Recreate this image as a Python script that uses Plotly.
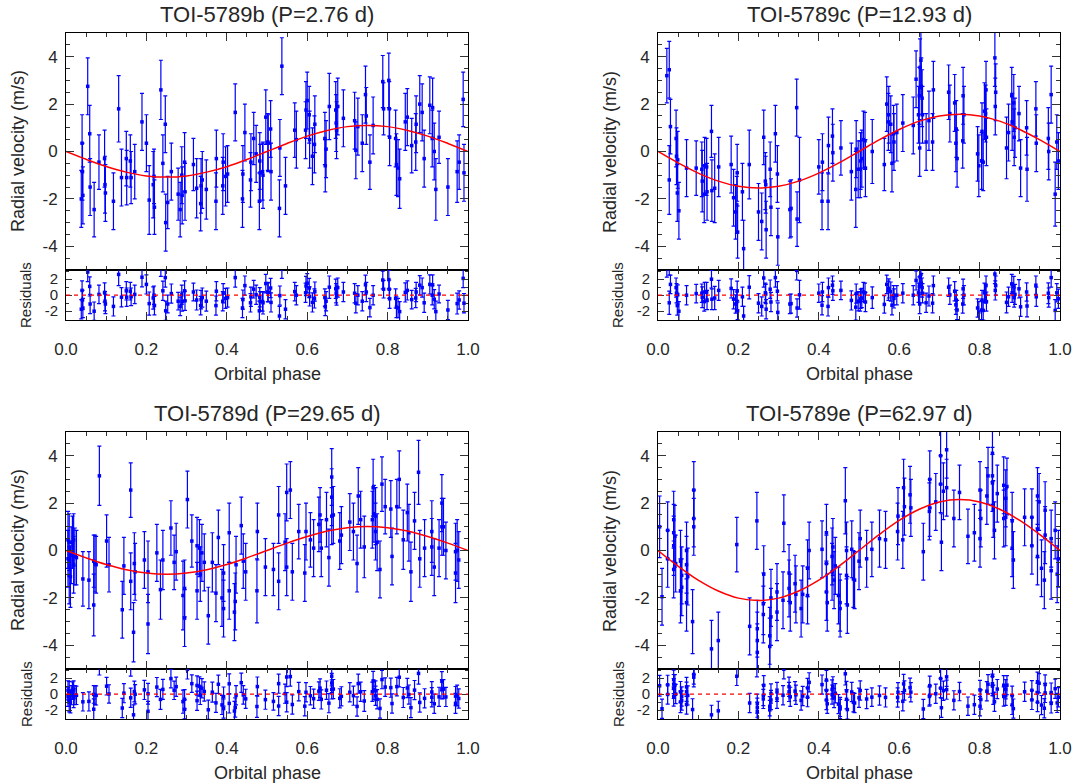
import plotly.graph_objects as go

W, H = 1078, 784

titles = ["TOI-5789b (P=2.76 d)", "TOI-5789c (P=12.93 d)",
          "TOI-5789d (P=29.65 d)", "TOI-5789e (P=62.97 d)"]

model_phase = [0.00, 0.05, 0.10, 0.15, 0.20, 0.25, 0.30, 0.35, 0.40, 0.45, 0.50,
               0.55, 0.60, 0.65, 0.70, 0.75, 0.80, 0.85, 0.90, 0.95, 1.00]
b_model = [0, -0.33, -0.63, -0.87, -1.03, -1.08, -1.03, -0.87, -0.64, -0.34, 0.0,
           0.34, 0.65, 0.89, 1.05, 1.10, 1.05, 0.89, 0.65, 0.34, 0.0]
c_model = [0, -0.48, -0.91, -1.25, -1.47, -1.54, -1.47, -1.25, -0.91, -0.48, 0.0,
           0.49, 0.93, 1.28, 1.50, 1.57, 1.50, 1.28, 0.93, 0.49, 0.0]
d_model = [0, -0.31, -0.59, -0.81, -0.95, -1.00, -0.95, -0.81, -0.59, -0.31, 0.0,
           0.31, 0.59, 0.82, 0.96, 1.01, 0.96, 0.82, 0.59, 0.31, 0.0]
e_model = [0, -0.66, -1.25, -1.71, -2.01, -2.11, -2.01, -1.71, -1.25, -0.66, 0.0,
           0.67, 1.27, 1.74, 2.05, 2.15, 2.05, 1.74, 1.27, 0.67, 0.0]

# ---------------- TOI-5789b ----------------
b_phase = [
    0.038, 0.040, 0.041, 0.042, 0.054, 0.059, 0.060, 0.070, 0.082, 0.096,
    0.097, 0.098, 0.118, 0.131, 0.138, 0.150, 0.151, 0.160, 0.162, 0.171,
    0.189, 0.200, 0.207, 0.217, 0.219, 0.220, 0.236, 0.241, 0.247, 0.248,
    0.253, 0.262, 0.279, 0.284, 0.288, 0.289, 0.295, 0.296, 0.317, 0.325,
    0.335, 0.336, 0.339, 0.349, 0.373, 0.374, 0.390, 0.391, 0.397, 0.402,
    0.421, 0.439, 0.440, 0.445, 0.459, 0.460, 0.467, 0.473, 0.481, 0.482,
    0.483, 0.489, 0.490, 0.497, 0.502, 0.503, 0.509, 0.510, 0.531, 0.532,
    0.537, 0.546, 0.569, 0.573, 0.596, 0.597, 0.600, 0.605, 0.606, 0.613,
    0.618, 0.619, 0.644, 0.645, 0.647, 0.655, 0.671, 0.672, 0.673, 0.676,
    0.690, 0.718, 0.721, 0.726, 0.737, 0.745, 0.747, 0.756, 0.764, 0.788,
    0.790, 0.803, 0.804, 0.805, 0.820, 0.822, 0.826, 0.830, 0.844, 0.849,
    0.860, 0.870, 0.871, 0.880, 0.886, 0.891, 0.905, 0.911, 0.912, 0.916,
    0.920, 0.928, 0.950, 0.973, 0.978, 0.988, 0.990]
b_rv = [
    -2.00, 0.35, -0.85, -1.85, 2.75, 0.75, -1.50, -2.45, -0.45, -0.30,
    -1.40, -1.75, -2.10, 1.80, -1.10, -0.30, -1.10, -0.40, -1.10, -0.85,
    1.25, 0.35, -2.05, -1.40, -1.05, -2.35, 2.60, -0.50, 1.15, -3.00,
    -2.15, -0.85, -1.80, -2.45, -1.00, -1.85, -0.45, -1.70, -0.55, -1.55,
    -2.20, -1.45, -1.20, -1.60, -2.10, -0.30, -1.45, -0.45, -1.05, -0.95,
    1.65, -2.00, -0.95, 0.80, -1.20, -0.45, 0.55, -0.10, -2.10, -0.40,
    -0.90, -0.85, -1.00, 1.45, 0.40, 0.35, 0.95, -0.85, -2.40, 0.15,
    3.60, -1.45, 0.90, 0.50, 0.90, 1.75, 2.15, 1.55, 0.50, -0.20,
    0.30, 1.15, 0.55, -0.60, 0.10, 1.90, 1.75, 1.20, 0.90, 1.90,
    1.40, 1.30, 0.05, 1.05, 0.35, 2.40, 1.50, -0.45, 1.10, 2.95,
    1.80, 3.00, 1.80, 0.60, 0.55, -0.55, -0.70, -1.15, 1.25, 1.45,
    0.25, 0.40, 1.15, 2.00, 1.65, -0.30, 1.95, 0.55, 1.85, 0.00,
    -1.60, 0.60, -1.50, -0.85, -0.45, 2.20, -0.90]
b_err = [
    1.2, 1.2, 1.2, 1.2, 1.2, 1.2, 1.2, 1.15, 1.15, 1.2,
    1.2, 1.2, 1.2, 1.4, 1.2, 1.15, 1.15, 1.1, 1.1, 1.15,
    1.2, 1.2, 1.45, 1.4, 1.15, 1.15, 1.25, 1.2, 1.2, 1.2,
    1.1, 1.2, 1.1, 1.15, 1.2, 1.2, 1.25, 1.2, 1.1, 1.25,
    1.15, 1.15, 1.2, 1.25, 1.2, 1.2, 1.2, 1.2, 1.25, 1.2,
    1.2, 1.2, 1.2, 1.2, 1.15, 1.2, 1.1, 1.2, 1.2, 1.2,
    1.2, 1.2, 1.4, 1.15, 1.2, 1.2, 1.2, 1.2, 1.2, 1.2,
    1.2, 1.2, 1.15, 1.2, 1.2, 1.2, 1.2, 1.2, 1.2, 1.2,
    1.2, 1.2, 1.1, 1.1, 1.2, 1.4, 1.2, 1.2, 1.2, 1.2,
    1.2, 1.2, 1.2, 1.2, 1.2, 1.2, 1.2, 1.15, 1.2, 1.1,
    1.1, 1.15, 1.15, 1.2, 1.2, 1.3, 1.2, 1.25, 1.2, 1.2,
    1.15, 1.2, 1.2, 1.2, 1.2, 1.2, 1.2, 1.2, 1.25, 1.2,
    1.3, 1.1, 1.2, 1.3, 1.15, 1.15, 1.2]
b_res = [
    -1.75, 0.60, -0.60, -1.60, 2.90, 1.10, -1.10, -2.00, 0.10, 0.35,
    -0.75, -1.10, -1.40, 2.60, -0.25, 0.55, -0.25, 0.50, -0.20, 0.10,
    2.25, 1.35, -1.05, -0.35, 0.00, -1.30, 3.60, 0.55, 2.20, -1.95,
    -1.10, 0.20, -0.75, -1.40, 0.05, -0.80, 0.55, -0.70, 0.40, -0.60,
    -1.30, -0.55, -0.30, -0.75, -1.30, 0.50, -0.75, 0.25, -0.40, -0.30,
    2.20, -1.60, -0.55, 1.20, -0.95, -0.20, 0.75, 0.05, -1.95, -0.25,
    -0.75, -0.80, -0.95, 1.45, 0.40, 0.35, 0.90, -0.90, -2.60, -0.05,
    3.30, -1.75, 0.45, 0.00, 0.30, 1.15, 1.50, 0.90, -0.15, -0.90,
    -0.40, 0.45, -0.30, -1.45, -0.75, 1.00, 0.80, 0.25, -0.05, 0.95,
    0.40, 0.25, -1.00, 0.00, -0.75, 1.30, 0.40, -1.55, 0.00, 1.90,
    0.75, 1.95, 0.75, -0.45, -0.40, -1.50, -1.60, -2.05, 0.35, 0.60,
    -0.55, -0.35, 0.40, 1.25, 0.95, -0.95, 1.35, 0.00, 1.30, -0.50,
    -2.05, 0.15, -1.85, -1.05, -0.60, 2.10, -1.00]

# ---------------- TOI-5789c ----------------
c_phase = [
    0.022, 0.028, 0.028, 0.031, 0.045, 0.046, 0.048, 0.049, 0.052, 0.071,
    0.095, 0.109, 0.110, 0.115, 0.116, 0.121, 0.122, 0.133, 0.134, 0.141,
    0.151, 0.182, 0.188, 0.193, 0.196, 0.197, 0.198, 0.210, 0.213, 0.227,
    0.250, 0.258, 0.263, 0.267, 0.268, 0.269, 0.279, 0.281, 0.292, 0.297,
    0.298, 0.328, 0.331, 0.345, 0.346, 0.352, 0.400, 0.408, 0.409, 0.423,
    0.424, 0.434, 0.435, 0.455, 0.481, 0.492, 0.493, 0.498, 0.503, 0.504,
    0.507, 0.511, 0.515, 0.516, 0.533, 0.563, 0.569, 0.573, 0.574, 0.579,
    0.582, 0.586, 0.587, 0.594, 0.609, 0.635, 0.642, 0.648, 0.650, 0.651,
    0.652, 0.654, 0.655, 0.657, 0.658, 0.667, 0.674, 0.683, 0.685, 0.723,
    0.726, 0.738, 0.741, 0.742, 0.744, 0.758, 0.759, 0.761, 0.795, 0.798,
    0.805, 0.806, 0.809, 0.812, 0.815, 0.816, 0.817, 0.838, 0.839, 0.840,
    0.867, 0.872, 0.880, 0.881, 0.885, 0.886, 0.888, 0.898, 0.902, 0.917,
    0.918, 0.940, 0.941, 0.971, 0.972, 0.978, 0.988, 0.992, 0.996]
c_rv = [
    3.20, 3.45, -1.20, 1.05, 0.55, -0.20, -1.75, -0.35, -2.50, -0.70,
    -0.70, -0.75, -1.25, -1.80, -0.60, -0.65, -1.70, 0.85, -1.65, -1.55,
    -0.65, -0.55, -1.95, -2.55, -2.25, -0.90, -3.40, -1.70, -4.10, -0.55,
    -2.55, -2.95, 0.60, -1.25, -1.40, -3.30, -0.75, -2.35, 0.75, -0.95,
    -3.60, -2.45, -2.40, 1.85, -2.85, -1.20, -0.65, -2.10, -0.45, -2.10,
    0.25, 0.65, -0.05, 0.15, -0.85, -1.60, 0.10, -0.75, -0.75, -0.40,
    -0.30, 0.50, 0.45, -0.70, 0.00, -0.55, 2.00, 1.25, 1.55, 1.15,
    -0.50, 0.75, 0.40, 0.80, 1.20, 1.10, 3.05, 1.55, 2.35, 0.15,
    3.55, 3.85, 2.75, 2.25, 1.55, 0.40, 1.30, 0.40, 2.60, 2.50,
    1.60, 2.05, 0.35, 0.95, -0.30, 0.45, 2.35, 1.55, -0.10, -0.60,
    -0.40, 0.85, -0.45, 1.70, 1.60, 2.60, 0.60, 3.95, 1.90, 2.50,
    0.15, 0.80, 2.35, 1.25, 2.05, 0.60, 1.00, 1.60, -0.70, 1.00,
    -0.75, 1.80, 0.35, 0.55, 0.00, 2.40, -1.80, 0.40, -0.40]
c_err = [
    1.15, 1.2, 1.45, 1.15, 1.2, 1.2, 1.2, 1.2, 1.2, 1.2,
    1.15, 1.15, 1.3, 1.2, 1.2, 1.2, 1.2, 1.1, 1.3, 1.45,
    1.25, 1.2, 1.2, 1.15, 1.2, 1.2, 1.1, 1.2, 1.2, 1.45,
    1.2, 1.2, 1.15, 1.2, 1.2, 1.2, 1.15, 1.2, 1.2, 1.2,
    1.2, 1.2, 1.2, 1.2, 1.15, 1.8, 1.15, 1.2, 1.2, 1.2,
    1.2, 1.15, 1.2, 1.15, 1.2, 1.6, 1.2, 1.2, 1.2, 1.2,
    1.2, 1.2, 1.2, 1.2, 1.35, 1.1, 1.15, 1.2, 1.2, 1.2,
    1.2, 1.2, 1.2, 1.2, 1.2, 1.2, 1.2, 1.2, 1.2, 1.2,
    1.2, 1.2, 1.2, 1.2, 1.2, 1.2, 1.25, 1.2, 1.2, 1.15,
    1.2, 1.2, 1.2, 1.2, 1.2, 1.15, 1.2, 1.2, 1.15, 1.3,
    1.2, 1.2, 1.2, 1.2, 1.2, 1.2, 1.2, 1.2, 1.2, 1.2,
    1.3, 1.2, 1.2, 1.2, 1.2, 1.2, 1.25, 1.15, 1.2, 1.15,
    1.35, 1.15, 1.2, 1.3, 1.2, 1.2, 1.35, 1.15, 1.2]
c_res = [
    3.40, 3.70, -0.95, 1.35, 0.95, 0.25, -1.30, 0.10, -2.00, 0.00,
    0.20, 0.25, -0.25, -0.80, 0.40, 0.40, -0.60, 2.00, -0.50, -0.35,
    0.60, 0.85, -0.50, -1.10, -0.80, 0.55, -1.95, -0.20, -2.60, 1.00,
    -1.00, -1.40, 2.15, 0.30, 0.15, -1.75, 0.75, -0.85, 2.20, 0.50,
    -2.15, -1.10, -1.05, 3.10, -1.60, 0.05, 0.25, -1.25, 0.40, -1.40,
    0.95, 1.25, 0.55, 0.60, -0.65, -1.50, 0.20, -0.75, -0.80, -0.45,
    -0.35, 0.40, 0.30, -0.85, -0.30, -1.15, 1.35, 0.55, 0.85, 0.45,
    -1.25, 0.00, -0.40, 0.00, 0.25, 0.00, 1.85, 0.30, 1.10, -1.10,
    2.30, 2.60, 1.50, 0.95, 0.25, -0.95, -0.10, -1.00, 1.20, 1.00,
    0.05, 0.50, -1.20, -0.60, -1.85, -1.10, 0.80, 0.00, -1.60, -2.10,
    -1.85, -0.60, -1.90, 0.30, 0.20, 1.20, -0.80, 2.65, 0.60, 1.20,
    -0.90, -0.20, 1.40, 0.30, 1.15, -0.30, 0.10, 0.80, -1.45, 0.40,
    -1.35, 1.25, -0.20, 0.25, -0.30, 2.20, -1.90, 0.30, -0.45]

# ---------------- TOI-5789d ----------------
d_phase = [
    0.005, 0.005, 0.008, 0.008, 0.011, 0.013, 0.016, 0.019, 0.019, 0.022,
    0.026, 0.042, 0.057, 0.069, 0.069, 0.072, 0.075, 0.083, 0.101, 0.107,
    0.140, 0.144, 0.161, 0.161, 0.168, 0.170, 0.172, 0.195, 0.204, 0.204,
    0.226, 0.235, 0.241, 0.261, 0.269, 0.274, 0.291, 0.295, 0.295, 0.302,
    0.313, 0.326, 0.326, 0.332, 0.334, 0.338, 0.344, 0.354, 0.364, 0.373,
    0.379, 0.388, 0.392, 0.392, 0.406, 0.406, 0.419, 0.421, 0.423, 0.436,
    0.441, 0.447, 0.475, 0.476, 0.496, 0.516, 0.529, 0.529, 0.545, 0.549,
    0.549, 0.558, 0.563, 0.579, 0.594, 0.597, 0.608, 0.616, 0.629, 0.632,
    0.635, 0.648, 0.654, 0.661, 0.661, 0.661, 0.665, 0.681, 0.685, 0.706,
    0.715, 0.724, 0.727, 0.733, 0.742, 0.762, 0.764, 0.766, 0.770, 0.770,
    0.774, 0.781, 0.786, 0.794, 0.808, 0.811, 0.823, 0.829, 0.839, 0.849,
    0.853, 0.858, 0.867, 0.877, 0.880, 0.892, 0.910, 0.910, 0.916, 0.928,
    0.935, 0.935, 0.939, 0.945, 0.969, 0.969, 0.973, 0.977]
d_rv = [
    0.45, -0.35, 0.35, -1.05, -1.10, -0.20, 0.35, 0.45, -0.60, -0.25,
    -0.30, -1.20, -1.25, -2.30, -0.45, -0.55, -0.60, 3.15, 0.40, -0.60,
    -2.50, -0.65, 2.55, -1.30, -3.45, -0.55, -0.90, -0.40, -3.10, -0.90,
    -0.10, -1.65, -0.40, 0.95, -0.50, -0.05, -1.90, -1.60, -2.85, 2.15,
    0.40, -1.70, 0.20, 0.10, -1.00, -0.10, -0.50, -2.75, -0.50, -1.80,
    0.55, -2.00, -0.95, -2.45, 0.75, -1.70, -2.60, -2.15, -0.60, 1.05,
    -0.45, -0.90, -1.70, 0.80, -0.70, -0.80, -1.30, 1.50, 0.35, 2.45,
    -0.70, 2.55, -0.90, 0.80, -0.95, 0.80, 0.45, 0.10, 1.10, 1.50,
    0.10, 1.30, -0.30, 3.10, 2.25, 1.45, 1.50, 0.40, 0.65, 1.20,
    0.80, -0.55, 2.30, 1.30, 0.15, 1.30, 2.65, 1.55, 0.80, 1.45,
    0.35, -0.80, 2.80, 1.85, 1.75, -0.25, 1.85, 3.00, 0.45, 1.60,
    0.75, -0.90, 1.25, 3.30, -0.35, 0.10, 0.80, 0.15, -0.70, 0.10,
    1.00, 2.00, 1.00, 0.00, -0.95, -0.05, 0.00, -0.40]
d_err = [
    1.2, 1.2, 1.2, 1.2, 1.3, 1.2, 1.1, 1.1, 1.2, 1.2,
    1.15, 1.15, 1.2, 1.3, 1.1, 1.2, 1.2, 1.25, 1.1, 1.15,
    1.2, 1.2, 1.15, 1.2, 1.25, 1.3, 1.2, 1.2, 1.25, 1.3,
    1.2, 1.25, 1.25, 1.15, 1.15, 1.2, 1.45, 1.2, 1.2, 1.2,
    1.1, 1.2, 1.2, 1.2, 1.15, 1.2, 1.2, 1.2, 1.25, 1.2,
    1.15, 1.2, 1.2, 1.2, 1.25, 1.2, 1.2, 1.2, 1.2, 1.2,
    1.15, 1.2, 1.35, 1.2, 1.2, 1.1, 1.2, 1.2, 1.2, 1.2,
    1.2, 1.2, 1.2, 1.15, 1.2, 1.2, 1.15, 1.2, 1.15, 1.15,
    1.2, 1.15, 1.2, 1.2, 1.2, 1.2, 1.2, 1.2, 1.2, 1.2,
    1.2, 1.2, 1.2, 1.2, 1.3, 1.2, 1.2, 1.2, 1.2, 1.2,
    1.2, 1.2, 1.15, 1.15, 1.2, 1.2, 1.15, 1.2, 1.25, 1.2,
    1.2, 1.25, 1.2, 1.35, 1.2, 1.2, 1.3, 1.2, 1.2, 1.2,
    1.2, 1.2, 1.2, 1.2, 1.25, 1.2, 1.3, 1.2]
d_res = [
    0.48, -0.32, 0.40, -1.00, -1.03, -0.12, 0.45, 0.57, -0.48, -0.11,
    -0.14, -0.95, -0.90, -1.88, -0.03, -0.11, -0.15, 3.65, 1.00, 0.03,
    -1.73, 0.13, 3.40, -0.45, -2.58, 0.33, -0.01, 0.54, -2.14, 0.06,
    0.89, -0.65, 0.60, 1.95, 0.49, 0.94, -0.93, -0.64, -1.89, 3.10,
    1.32, -0.81, 1.09, 0.97, -0.14, 0.75, 0.34, -1.95, 0.25, -1.08,
    1.24, -1.34, -0.30, -1.80, 1.30, -1.15, -2.10, -1.66, -0.13, 1.44,
    -0.09, -0.58, -1.54, 0.95, -0.68, -0.90, -1.48, 1.32, 0.07, 2.15,
    -1.00, 2.20, -1.29, 0.32, -1.50, 0.24, -0.19, -0.56, 0.38, 0.76,
    -0.65, 0.50, -1.12, 2.25, 1.40, 0.60, 0.64, -0.52, -0.27, 0.24,
    -0.18, -1.53, 1.32, 0.31, -0.85, 0.30, 1.66, 0.56, -0.19, 0.46,
    -0.64, -1.78, 1.83, 0.89, 0.82, -1.17, 0.95, 2.12, -0.41, 0.78,
    -0.05, -1.68, 0.51, 2.60, -1.03, -0.52, 0.27, -0.38, -1.20, -0.33,
    0.61, 1.61, 0.63, -0.34, -1.14, -0.24, -0.17, -0.54]

# ---------------- TOI-5789e ----------------
e_phase = [
    0.004, 0.010, 0.024, 0.024, 0.039, 0.039, 0.039, 0.039, 0.042, 0.044,
    0.056, 0.056, 0.059, 0.059, 0.071, 0.071, 0.071, 0.074, 0.086, 0.089,
    0.089, 0.089, 0.133, 0.150, 0.196, 0.228, 0.246, 0.247, 0.247, 0.247,
    0.262, 0.262, 0.263, 0.278, 0.278, 0.281, 0.281, 0.296, 0.296, 0.311,
    0.313, 0.326, 0.326, 0.329, 0.341, 0.343, 0.356, 0.360, 0.372, 0.372,
    0.376, 0.408, 0.419, 0.419, 0.419, 0.421, 0.433, 0.433, 0.435, 0.438,
    0.441, 0.449, 0.453, 0.453, 0.466, 0.469, 0.469, 0.471, 0.482, 0.486,
    0.489, 0.500, 0.503, 0.519, 0.532, 0.551, 0.566, 0.596, 0.597, 0.609,
    0.611, 0.613, 0.627, 0.629, 0.660, 0.675, 0.676, 0.676, 0.691, 0.703,
    0.703, 0.705, 0.710, 0.718, 0.718, 0.736, 0.750, 0.771, 0.787, 0.801,
    0.801, 0.803, 0.818, 0.821, 0.832, 0.832, 0.832, 0.834, 0.837, 0.844,
    0.860, 0.860, 0.865, 0.865, 0.868, 0.881, 0.881, 0.884, 0.912, 0.930,
    0.930, 0.944, 0.944, 0.944, 0.948, 0.954, 0.961, 0.963, 0.963, 0.978,
    0.978, 0.988, 0.993, 0.996]
e_rv = [
    1.00, -1.95, 0.85, -0.35, 0.75, 0.20, 1.30, -0.80, 0.60, -0.55,
    -0.45, -1.70, -1.05, -1.55, 0.00, -0.60, -2.20, -1.10, -3.00, 2.55,
    1.35, 1.00, -4.15, -3.80, 0.25, -3.20, 1.25, -3.30, -3.80, -4.30,
    -2.25, -2.70, -1.00, -3.60, -4.05, -2.80, -2.00, -2.60, -1.75, -2.10,
    1.15, -1.60, -0.95, -2.20, -1.40, -1.85, -2.45, -1.85, -1.90, -0.75,
    0.00, 0.05, 0.75, -0.55, -1.75, -2.20, -0.25, -0.90, 0.15, -1.25,
    -0.65, -1.90, -2.20, -2.45, 2.10, 0.00, -1.05, -2.30, 0.05, -1.20,
    -1.25, -0.45, 0.50, -0.35, 0.05, 0.50, 0.45, 0.80, 1.45, 0.45,
    2.65, 1.85, 2.35, 1.80, -0.05, 1.65, 1.80, 3.00, 2.05, 2.80,
    4.00, 0.35, 2.50, 2.65, 4.25, 1.35, 2.45, 0.60, 0.75, 0.50,
    2.55, 1.35, 2.30, 3.15, 3.15, 4.10, 2.85, 1.75, 0.85, 2.40,
    1.35, 2.75, 1.40, 2.20, 2.70, 1.25, 0.10, -0.40, 1.40, 1.40,
    0.20, 2.30, 0.90, -0.25, 2.05, -0.75, -1.25, 1.70, 0.65, 0.50,
    -0.85, 0.85, -1.00, -0.35]
e_err = [
    1.3, 1.2, 1.2, 1.2, 1.2, 1.25, 1.2, 1.2, 1.3, 1.2,
    1.3, 1.35, 1.2, 1.2, 1.2, 1.2, 1.2, 1.2, 1.35, 1.2,
    1.2, 1.2, 1.2, 1.2, 1.15, 1.2, 1.2, 1.2, 1.2, 1.2,
    1.3, 1.2, 1.2, 1.2, 1.2, 1.2, 1.2, 1.2, 1.2, 1.2,
    1.2, 1.2, 1.2, 1.2, 1.2, 1.2, 1.2, 1.2, 1.2, 1.2,
    1.2, 1.2, 1.2, 1.2, 1.2, 1.2, 1.2, 1.2, 1.2, 1.2,
    1.2, 1.2, 1.2, 1.2, 1.4, 1.2, 1.2, 1.2, 1.2, 1.2,
    1.2, 1.2, 1.2, 1.2, 1.15, 1.2, 1.2, 1.2, 1.2, 1.2,
    1.2, 1.2, 1.2, 1.2, 1.2, 1.2, 1.2, 1.2, 1.2, 1.2,
    1.2, 1.2, 1.2, 1.2, 1.2, 1.2, 1.15, 1.15, 1.2, 1.2,
    1.2, 1.2, 1.2, 1.2, 1.2, 1.2, 1.2, 1.2, 1.2, 1.2,
    1.2, 1.2, 1.2, 1.2, 1.2, 1.2, 1.2, 1.2, 1.2, 1.2,
    1.2, 1.2, 1.2, 1.2, 1.2, 1.2, 1.2, 1.2, 1.2, 1.2,
    1.2, 1.2, 1.2, 1.2]
e_res = [
    1.05, -1.82, 1.17, -0.03, 1.26, 0.71, 1.81, -0.29, 1.15, 0.02,
    0.29, -0.96, -0.29, -0.79, 0.91, 0.31, -1.29, -0.15, -1.92, 3.67,
    2.47, 2.12, -2.58, -2.08, 2.24, -1.10, 3.37, -1.18, -1.68, -2.18,
    -0.14, -0.59, 1.11, -1.51, -1.96, -0.72, 0.08, -0.56, 0.29, -0.13,
    3.12, 0.29, 0.94, -0.33, 0.38, -0.07, -0.78, -0.22, -0.37, 0.78,
    1.48, 1.20, 1.77, 0.47, -0.73, -1.20, 0.60, -0.05, 0.98, -0.47,
    0.11, -1.24, -1.59, -1.84, 2.55, 0.41, -0.64, -1.92, 0.28, -1.01,
    -1.10, -0.45, 0.46, -0.60, -0.37, -0.16, -0.40, -0.41, 0.24, -0.89,
    1.29, 0.47, 0.82, 0.25, -1.85, -0.28, -0.13, 1.07, 0.06, 0.76,
    1.96, -1.69, 0.44, 0.57, 2.17, -0.77, 0.33, -1.50, -1.31, -1.51,
    0.54, -0.66, 0.37, 1.24, 1.31, 2.26, 1.01, -0.07, -0.95, 0.64,
    -0.28, 1.12, -0.19, 0.61, 1.13, -0.19, -1.34, -1.80, 0.30, 0.49,
    -0.71, 1.56, 0.16, -0.99, 1.37, -1.36, -1.76, 1.21, 0.16, 0.20,
    -1.15, 0.69, -1.09, -0.38]

panels = [
    dict(phase=b_phase, rv=b_rv, err=b_err, res=b_res, model=b_model, left=66, top=33),
    dict(phase=c_phase, rv=c_rv, err=c_err, res=c_res, model=c_model, left=658, top=33),
    dict(phase=d_phase, rv=d_rv, err=d_err, res=d_res, model=d_model, left=66, top=432),
    dict(phase=e_phase, rv=e_rv, err=e_err, res=e_res, model=e_model, left=658, top=432),
]

PW, MH, RH = 402, 237, 50
FONT = "Liberation Sans, Arial, sans-serif"
TXT = "#262626"
BLUE = "#0000ff"

fig = go.Figure()
layout = dict(width=W, height=H, margin=dict(l=0, r=0, t=0, b=0, autoexpand=False),
              paper_bgcolor="white", plot_bgcolor="white", showlegend=False,
              font=dict(family=FONT, color=TXT))
annotations = []
shapes = []

def ax_common():
    return dict(showline=True, linecolor="black", linewidth=1, mirror="allticks",
                ticks="inside", tickcolor="#333", tickwidth=1, showgrid=False,
                zeroline=False, automargin=False)

for i, p in enumerate(panels):
    n = min(len(p["phase"]), len(p["rv"]), len(p["err"]), len(p["res"]))
    ph, rv, er, rs = p["phase"][:n], p["rv"][:n], p["err"][:n], p["res"][:n]
    xm, ym = 2 * i + 1, 2 * i + 1
    xr, yr = 2 * i + 2, 2 * i + 2
    L, T = p["left"], p["top"]
    xdom = [L / W, (L + PW) / W]
    ydom_m = [1 - (T + MH) / H, 1 - T / H]
    ydom_r = [1 - (T + MH + RH) / H, 1 - (T + MH) / H]

    xm_n = "xaxis" if xm == 1 else f"xaxis{xm}"
    ym_n = "yaxis" if ym == 1 else f"yaxis{ym}"
    xr_n, yr_n = f"xaxis{xr}", f"yaxis{yr}"
    xm_ref = "x" if xm == 1 else f"x{xm}"
    ym_ref = "y" if ym == 1 else f"y{ym}"

    layout[xm_n] = dict(ax_common(), domain=xdom, anchor=ym_ref, range=[0, 1],
                        dtick=0.2, tick0=0, ticklen=8, showticklabels=False,
                        minor=dict(dtick=0.05, tick0=0, ticks="inside", ticklen=4, tickcolor="#333"))
    layout[ym_n] = dict(ax_common(), domain=ydom_m, anchor=xm_ref, range=[-5, 5],
                        tickmode="array", tickvals=[-4, -2, 0, 2, 4],
                        ticktext=["-4", "-2", "0", "2", "4"], ticklen=8,
                        tickfont=dict(size=17, color=TXT), ticklabelstandoff=4,
                        minor=dict(tickmode="linear", dtick=0.5, tick0=0, ticks="inside", ticklen=4, tickcolor="#333"))
    layout[xr_n] = dict(ax_common(), domain=xdom, anchor=f"y{yr}", range=[0, 1],
                        tickmode="array", tickvals=[0, 0.2, 0.4, 0.6, 0.8, 1.0],
                        ticktext=["0.0", "0.2", "0.4", "0.6", "0.8", "1.0"], ticklen=8,
                        tickfont=dict(size=17, color=TXT), ticklabelstandoff=14,
                        minor=dict(tickmode="linear", dtick=0.05, tick0=0, ticks="inside", ticklen=4, tickcolor="#333"))
    layout[yr_n] = dict(ax_common(), domain=ydom_r, anchor=f"x{xr}", range=[-3.1, 3.15],
                        tickmode="array", tickvals=[-2, 0, 2], ticktext=["-2", "0", "2"],
                        ticklen=6, tickfont=dict(size=15, color=TXT), ticklabelstandoff=4,
                        minor=dict(tickmode="linear", dtick=1, tick0=0, ticks="inside", ticklen=3, tickcolor="#333"))

    err_style = dict(type="data", array=er, visible=True, color=BLUE, thickness=1.2, width=2)
    fig.add_trace(go.Scatter(x=ph, y=rv, mode="markers", error_y=err_style,
                             marker=dict(symbol="square", size=3.5, color=BLUE),
                             xaxis=xm_ref, yaxis=ym_ref, hoverinfo="skip"))
    fig.add_trace(go.Scatter(x=model_phase, y=p["model"], mode="lines",
                             line=dict(color="#ff0000", width=1.5, shape="spline", smoothing=1.0),
                             xaxis=xm_ref, yaxis=ym_ref, hoverinfo="skip"))
    fig.add_trace(go.Scatter(x=ph, y=rs, mode="markers", error_y=dict(err_style),
                             marker=dict(symbol="square", size=3.5, color=BLUE),
                             xaxis=f"x{xr}", yaxis=f"y{yr}", hoverinfo="skip"))
    shapes.append(dict(type="line", xref=f"x{xr} domain", yref=f"y{yr}", x0=0, x1=1, y0=0, y1=0,
                       line=dict(color="#ff0000", width=1.3, dash="4px,4px"), layer="above"))

    cx = (L + PW / 2) / W
    annotations.append(dict(text=titles[i], x=cx, y=1 - (T - 18.5) / H, xref="paper", yref="paper",
                            showarrow=False, xanchor="center", yanchor="middle",
                            font=dict(size=22, color=TXT)))
    annotations.append(dict(text="Radial velocity (m/s)", x=(L - 48.5) / W, y=1 - (T + MH / 2) / H,
                            xref="paper", yref="paper", showarrow=False, textangle=-90,
                            xanchor="center", yanchor="middle", font=dict(size=18, color=TXT)))
    annotations.append(dict(text="Residuals", x=(L - 40) / W, y=1 - (T + MH + RH / 2) / H,
                            xref="paper", yref="paper", showarrow=False, textangle=-90,
                            xanchor="center", yanchor="middle", font=dict(size=15, color=TXT)))
    annotations.append(dict(text="Orbital phase", x=cx, y=1 - (T + MH + RH + 54) / H,
                            xref="paper", yref="paper", showarrow=False,
                            xanchor="center", yanchor="middle", font=dict(size=18, color=TXT)))

layout["annotations"] = annotations
layout["shapes"] = shapes
fig.update_layout(**layout)
fig.write_html("out.html")
